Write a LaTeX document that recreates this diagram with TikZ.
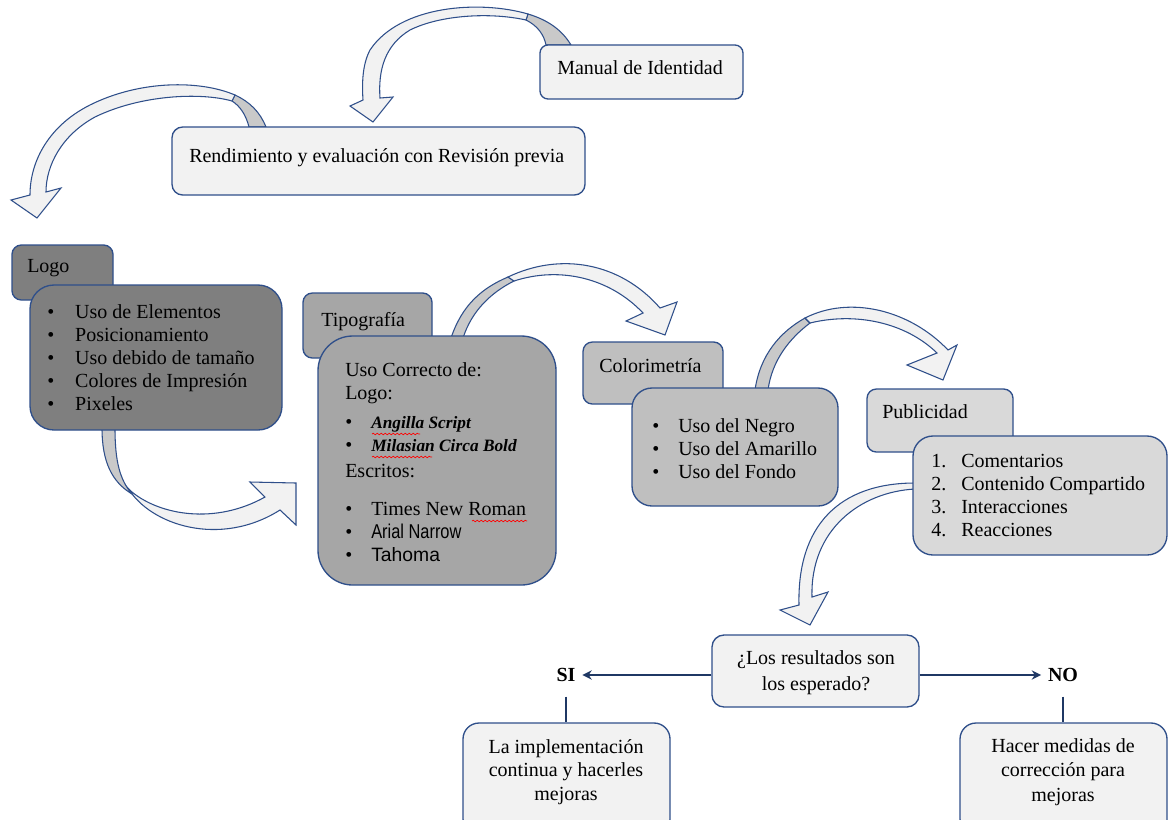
\documentclass[tikz,border=0pt]{standalone}
\usepackage{fontspec}
\setmainfont{Liberation Serif}
\newfontfamily\narrowf[FakeStretch=0.82]{Liberation Sans}
\newfontfamily\sansf{Liberation Sans}
\usetikzlibrary{fit,decorations.pathmorphing,arrows.meta}

\definecolor{bord}{HTML}{2F4F8A}
\definecolor{navy}{HTML}{1F3864}
\definecolor{gA}{HTML}{7F7F7F}
\definecolor{gB}{HTML}{A6A6A6}
\definecolor{gC}{HTML}{BFBFBF}
\definecolor{gD}{HTML}{D9D9D9}
\definecolor{gE}{HTML}{F2F2F2}
\definecolor{sliv}{HTML}{C9C9C9}

\begin{document}
\begin{tikzpicture}[x=0.75pt,y=-0.75pt,
 every node/.style={font=\fontsize{15}{17.25}\selectfont, inner sep=0pt},
 box/.style={draw=bord, line width=1pt, inner sep=0pt},
 txt/.style={anchor=base west, align=left},
 barrow/.style={draw=bord, line width=0.8pt, fill=gE, line join=miter},
 sarrow/.style={draw=bord, line width=0.8pt, fill=sliv},
 wavy/.style={draw=red, line width=0.5pt, decorate, decoration={snake, amplitude=0.6pt, segment length=3pt}},
 conn/.style={draw=navy, line width=2.2pt},
 vline/.style={draw=navy, line width=1.6pt},
 lbl/.style={font=\fontsize{15}{17.25}\selectfont\bfseries}
]
\useasboundingbox (0,0) rectangle (1169,819);

% ---------- curved block arrows ----------
% A1: Manual -> Rendimiento
\path[sarrow] (571,45) .. controls (562,30) and (548,20) .. (528,14) -- (526,20) .. controls (538,26) and (544,35) .. (546,45) -- cycle;
\path[barrow] (528,14) .. controls (480,0) and (400,5) .. (370,50) .. controls (362,65) and (362,85) .. (363,100)
  -- (350,106) -- (373,122) -- (393,97) -- (380,98)
  .. controls (378,70) and (385,45) .. (410,30) .. controls (440,15) and (490,12) .. (526,20) -- cycle;
% A2: Rendimiento -> Logo
\path[sarrow] (266,127) .. controls (260,112) and (250,102) .. (235,95) -- (232,101) .. controls (240,106) and (246,115) .. (249,127) -- cycle;
\path[barrow] (235,95) .. controls (200,80) and (140,80) .. (90,105) .. controls (50,125) and (30,160) .. (30,195)
  -- (11,200) -- (37,218) -- (61,188) -- (46,192)
  .. controls (46,165) and (62,135) .. (95,117) .. controls (140,95) and (200,92) .. (232,101) -- cycle;
% A3: Logo -> Tipografia
\path[sarrow] (102,428) .. controls (102,462) and (112,482) .. (132,494) .. controls (120,480) and (115,462) .. (115,428) -- cycle;
\path[barrow] (128,488) .. controls (150,525) and (220,548) .. (280,510)
  -- (296,525) -- (296,483) -- (250,482) -- (265,497)
  .. controls (215,525) and (160,515) .. (132,492) -- cycle;
% A4: Tipografia -> Colorimetria
\path[sarrow] (451,338) .. controls (462,305) and (482,288) .. (508,277) -- (514,281) .. controls (492,292) and (472,310) .. (463,338) -- cycle;
\path[barrow] (508,277) .. controls (560,252) and (620,262) .. (660,308)
  -- (677,302) -- (665,335) -- (626,321) -- (643,313)
  .. controls (610,278) and (560,266) .. (514,281) -- cycle;
% A5: Colorimetria -> Publicidad
\path[sarrow] (755,390) .. controls (760,355) and (780,332) .. (805,318) -- (810,323) .. controls (790,338) and (772,360) .. (768,390) -- cycle;
\path[barrow] (805,318) .. controls (850,295) and (910,310) .. (948,350)
  -- (957,345) -- (943,380) -- (907,365) -- (937,353)
  .. controls (905,322) and (855,312) .. (810,323) -- cycle;
% A6: Publicidad -> pregunta
\path[barrow] (915,483) .. controls (840,483) and (797,525) .. (799,605)
  -- (780,610) -- (810,625) -- (828,592) -- (812,597)
  .. controls (810,530) and (860,492) .. (915,489) -- cycle;

% ---------- boxes ----------
\node[box, fill=gE, rounded corners=6pt, fit={(540,45)(743,99)}] (manual) {};
\node[txt] (manualt) at (557,74) {Manual de Identidad};

\node[box, fill=gE, rounded corners=8pt, fit={(172,127)(585,195)}] (rend) {};
\node[txt] (rendt) at (189,162) {Rendimiento y evaluación con Revisión previa};

\node[box, fill=gA, rounded corners=7pt, fit={(12,245)(113,300)}] (logoh) {};
\node[txt] (logoht) at (27,272) {Logo};
\node[box, fill=gA, rounded corners=18pt, fit={(30,285)(282,430)}] (logob) {};
\node[txt] (logobt) at (47,318) {\begin{tabular}[t]{@{}p{21pt}@{}l@{}}
\textbullet & Uso de Elementos\\
\textbullet & Posicionamiento\\
\textbullet & Uso debido de tamaño\\
\textbullet & Colores de Impresión\\
\textbullet & Pixeles
\end{tabular}};

\node[box, fill=gB, rounded corners=7pt, fit={(303,293)(432,358)}] (tiph) {};
\node[txt] (tipht) at (321,326) {Tipografía};
\node[box, fill=gB, rounded corners=26pt, fit={(318,336)(556,585)}] (tipb) {};
\node[txt] (tipbt) at (345,376) {\begin{tabular}[t]{@{}p{19.5pt}@{}l@{}}
\multicolumn{2}{@{}l@{}}{Uso Correcto de:}\\
\multicolumn{2}{@{}l@{}}{Logo:}\\[5pt]
\textbullet & {\fontsize{13}{17.25}\selectfont\bfseries\itshape Angilla Script}\\
\textbullet & {\fontsize{13}{17.25}\selectfont\bfseries\itshape Milasian Circa Bold}\\[2pt]
\multicolumn{2}{@{}l@{}}{Escritos:}\\[11pt]
\textbullet & Times New Roman\\
\textbullet & {\narrowf Arial Narrow}\\
\textbullet & {\sansf\fontsize{14.5}{17.25}\selectfont Tahoma}
\end{tabular}};
\draw[wavy] (372,434) -- (420,434);
\draw[wavy] (372,457) -- (432,457);
\draw[wavy] (472,521) -- (527,521);

\node[box, fill=gC, rounded corners=7pt, fit={(583,342)(723,404)}] (colh) {};
\node[txt] (colht) at (599,372) {Colorimetría};
\node[box, fill=gC, rounded corners=15pt, fit={(632,388)(838,506)}] (colb) {};
\node[txt] (colbt) at (652,432) {\begin{tabular}[t]{@{}p{19.5pt}@{}l@{}}
\textbullet & Uso del Negro\\
\textbullet & Uso del Amarillo\\
\textbullet & Uso del Fondo
\end{tabular}};

\node[box, fill=gD, rounded corners=7pt, fit={(867,389)(1013,452)}] (pubh) {};
\node[txt] (pubht) at (882,418) {Publicidad};
\node[box, fill=gD, rounded corners=15pt, fit={(913,436)(1167,555)}] (pubb) {};
\node[txt] (pubbt) at (931,467) {\begin{tabular}[t]{@{}p{22.5pt}@{}l@{}}
1. & Comentarios\\
2. & Contenido Compartido\\
3. & Interacciones\\
4. & Reacciones
\end{tabular}};

% ---------- decision ----------
\node[box, fill=gE, rounded corners=9pt, fit={(712,635)(919,707)}] (q) {};
\node[align=center, font=\fontsize{15}{19.5}\selectfont] (qt) at (816,673) {¿Los resultados son\\los esperado?};

\node[lbl] (si) at (566,675) {SI};
\node[lbl] (no) at (1063,675) {NO};

\node[box, fill=gE, rounded corners=12pt, fit={(463,723)(670,835)}] (impl) {};
\node[align=center, font=\fontsize{15}{17.6}\selectfont] (implt) at (566,772) {La implementación\\continua y hacerles\\mejoras};
\node[box, fill=gE, rounded corners=12pt, fit={(960,723)(1167,835)}] (hacer) {};
\node[align=center, font=\fontsize{15}{18.5}\selectfont] (hacert) at (1063,772) {Hacer medidas de\\corrección para\\mejoras};

\draw[conn, -{Stealth[length=7pt,width=7pt]}, shorten >=5pt] (q.west |- si) -- (si.east);
\draw[conn, -{Stealth[length=7pt,width=7pt]}, shorten >=5pt] (q.east |- no) -- (no.west);
\draw[vline, shorten <=11pt] (si.south) -- (impl.north -| si);
\draw[vline, shorten <=11pt] (no.south) -- (hacer.north -| no);
\end{tikzpicture}
\end{document}
